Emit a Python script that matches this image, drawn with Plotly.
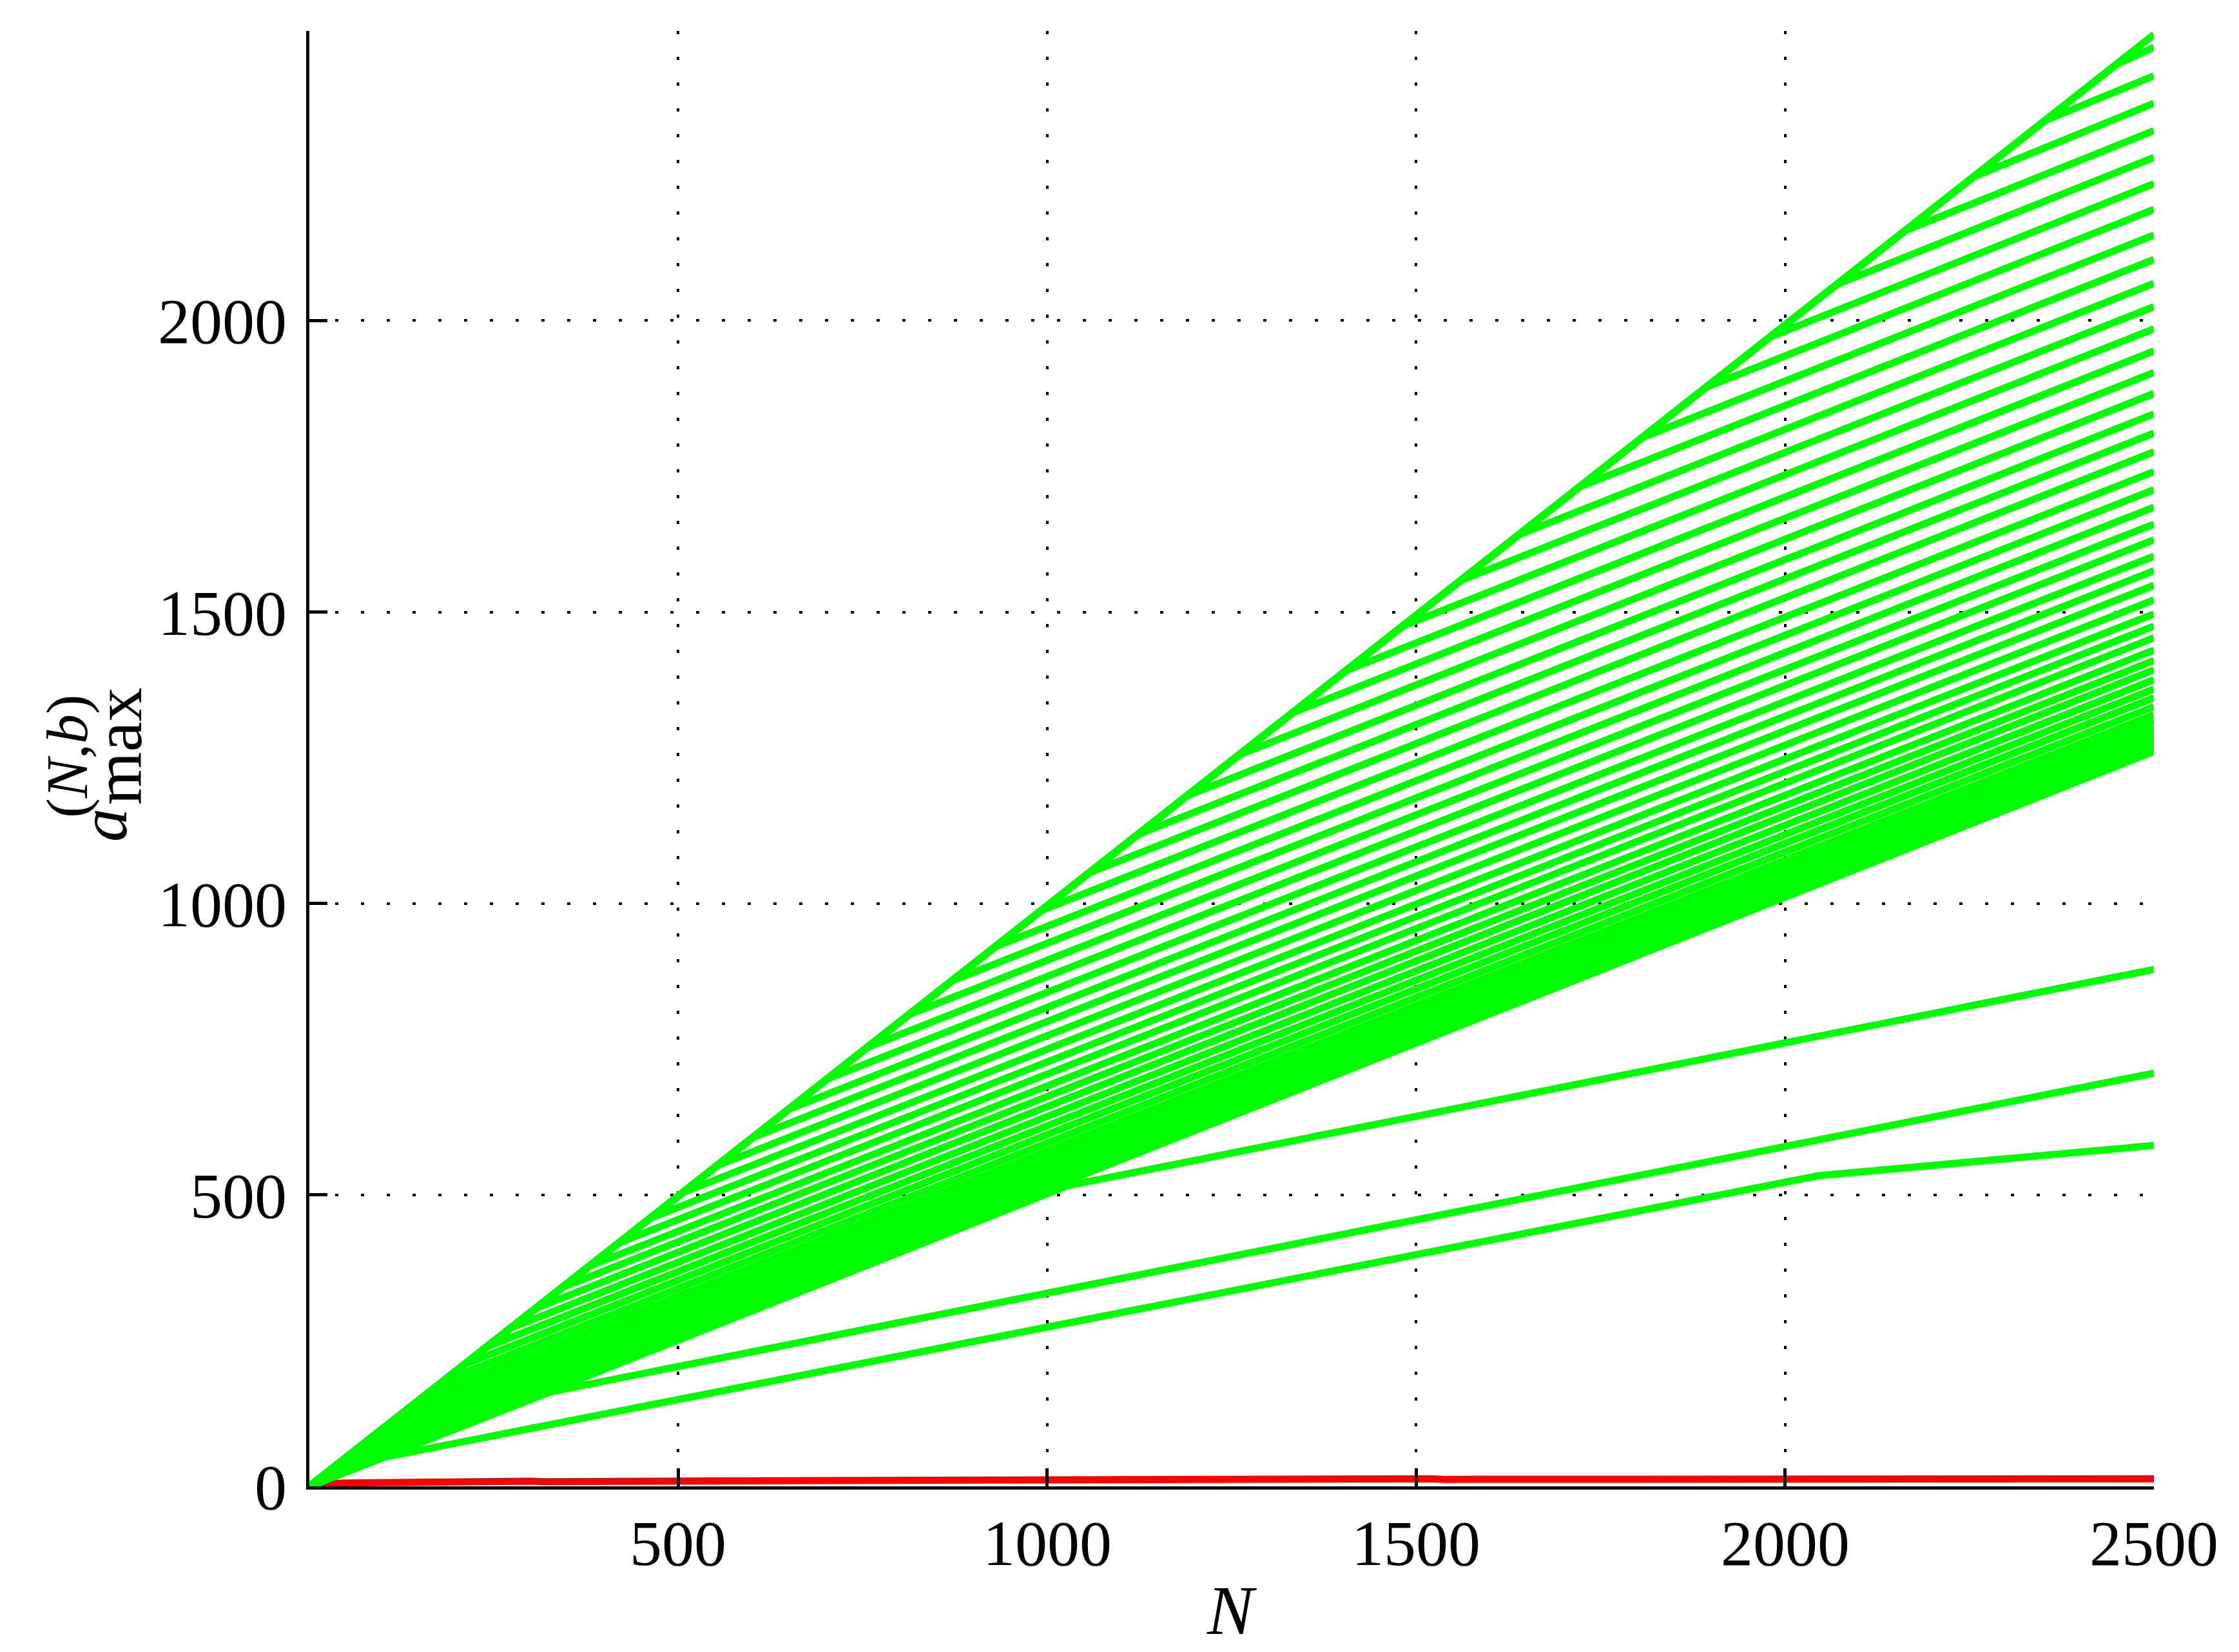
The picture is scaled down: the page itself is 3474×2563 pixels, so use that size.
import plotly.graph_objects as go

# ---------------- data ----------------
# main bundle: each curve follows the diagonal up to a branch point, then a flatter segment to N=2500
branch_N = [20, 30, 42, 56, 72, 90, 110, 132, 156, 182, 210, 240, 272, 306, 342, 380,
            420, 462, 506, 552, 600, 650, 702, 756, 812, 870, 930, 992, 1056, 1122, 1190,
            1260, 1332, 1406, 1482, 1560, 1640, 1722, 1806, 1892, 1980, 2070, 2162, 2256,
            2352, 2450]
branch_a = [20, 30, 42, 56, 72, 90, 110, 131, 155, 181, 209, 239, 271, 305, 341, 378,
            418, 460, 504, 550, 598, 647, 699, 753, 809, 867, 926, 988, 1052, 1118, 1185,
            1255, 1327, 1400, 1476, 1554, 1633, 1715, 1799, 1885, 1972, 2062, 2154, 2247,
            2343, 2440]
end_a = [1261, 1264, 1269, 1275, 1283, 1292, 1302, 1313, 1324, 1338, 1353, 1368, 1384,
         1401, 1417, 1435, 1456, 1476, 1497, 1521, 1546, 1571, 1596, 1624, 1651, 1680,
         1710, 1741, 1775, 1807, 1840, 1875, 1911, 1948, 1986, 2024, 2064, 2105, 2147,
         2191, 2235, 2280, 2326, 2373, 2420, 2469]

# top diagonal curve
diag_N = [0, 2500]
diag_a = [0, 2491]

# the three low curves (breakpoints)
lowA_N = [0, 101, 2045, 2500]
lowA_a = [0, 50, 533, 585]
lowB_N = [0, 326, 2500]
lowB_a = [0, 162, 709]
lowC_N = [0, 1028, 2500]
lowC_a = [0, 516, 887]

# red curve (noisy, near zero)
red_N = [1, 2, 3, 5, 8, 12, 16, 20, 30, 40, 50, 60, 80, 100, 120, 140, 160, 180, 200,
         220, 240, 260, 280, 300, 320, 340, 360, 380, 400, 420, 440, 460, 480, 500, 520,
         540, 560, 580, 600, 620, 640, 660, 680, 700, 720, 740, 760, 780, 800, 820, 840,
         860, 880, 900, 920, 940, 960, 980, 1000, 1020, 1040, 1060, 1080, 1100, 1120, 1140,
         1160, 1180, 1200, 1220, 1240, 1260, 1280, 1300, 1320, 1340, 1360, 1380, 1400, 1420,
         1440, 1460, 1480, 1500, 1520, 1540, 1560, 1580, 1600, 1620, 1640, 1660, 1680, 1700,
         1720, 1740, 1760, 1780, 1800, 1820, 1840, 1860, 1880, 1900, 1920, 1940, 1960, 1980,
         2000, 2020, 2040, 2060, 2080, 2100, 2120, 2140, 2160, 2180, 2200, 2220, 2240, 2260,
         2280, 2300, 2320, 2340, 2360, 2380, 2400, 2420, 2440, 2460, 2480, 2500]
red_a = [0, 1, 1.5, 2.3, 3.0, 3.6, 4.0, 4.4, 5.0, 5.4, 5.8, 6.0, 6.3, 6.6, 6.5, 7.2, 6.9,
         7.4, 7.6, 7.3, 8.4, 7.8, 8.0, 8.9, 8.1, 8.4, 9.3, 8.6, 8.7, 9.6, 8.8, 9.0, 9.9,
         9.1, 9.2, 10.3, 9.4, 9.4, 9.5, 10.6, 9.7, 9.7, 10.9, 9.9, 10.0, 10.0, 11.2, 10.1,
         10.2, 10.4, 11.6, 10.4, 10.5, 10.5, 11.8, 10.7, 10.8, 10.8, 12.0, 10.9, 11.0,
         11.1, 12.3, 11.2, 11.2, 11.3, 11.3, 12.5, 11.4, 11.4, 11.5, 12.7, 11.6, 11.6,
         11.6, 12.8, 11.7, 11.7, 11.8, 13.0, 11.8, 11.9, 11.9, 12.0, 13.1, 12.0, 12.0,
         12.1, 13.2, 12.1, 12.1, 12.2, 13.3, 12.2, 12.2, 12.3, 12.3, 13.4, 12.3, 12.4,
         12.4, 13.5, 12.4, 12.5, 12.5, 13.6, 12.5, 12.6, 12.6, 12.6, 13.7, 12.7, 12.7,
         12.7, 13.8, 12.8, 12.8, 12.8, 12.8, 13.9, 12.9, 12.9, 12.9, 14.0, 12.9, 13.0,
         13.0, 13.0, 14.0, 13.0, 13.1, 13.1, 13.1, 13.1]

x_ticks = [500, 1000, 1500, 2000, 2500]
y_ticks = [0, 500, 1000, 1500, 2000]

# ---------------- figure ----------------
GREEN = "#00FF00"
RED = "#FF0000"
LW = 11

fig = go.Figure()

fig.add_trace(go.Scatter(x=red_N, y=red_a, mode="lines",
                         line=dict(color=RED, width=LW), showlegend=False))

for bN, ba, ea in zip(branch_N, branch_a, end_a):
    fig.add_trace(go.Scatter(x=[0, bN, 2500], y=[0, ba, ea], mode="lines",
                             line=dict(color=GREEN, width=LW), showlegend=False))

for xs, ys in [(diag_N, diag_a), (lowA_N, lowA_a), (lowB_N, lowB_a), (lowC_N, lowC_a)]:
    fig.add_trace(go.Scatter(x=xs, y=ys, mode="lines",
                             line=dict(color=GREEN, width=LW), showlegend=False))

FONT = "Liberation Serif"
TICK_SIZE = 100
W, H = 3474, 2563
L, R, T, B = 472, 3334, 40, 2298

axis_common = dict(
    showline=True, linecolor="black", linewidth=5, mirror=False,
    zeroline=False,
    showgrid=True, gridcolor="black", gridwidth=4, griddash="5px,35px",
    ticks="inside", ticklen=28, tickwidth=5, tickcolor="black",
    tickfont=dict(family=FONT, size=TICK_SIZE, color="black"),
)

fig.update_layout(
    width=W, height=H,
    margin=dict(l=L, r=W - R, t=T, b=H - B, pad=0),
    paper_bgcolor="white", plot_bgcolor="white",
    xaxis=dict(range=[0, 2500], tickvals=x_ticks, showticklabels=False, **axis_common),
    yaxis=dict(range=[0, 2497], tickvals=y_ticks, ticktext=[str(v) for v in y_ticks],
               ticklabelstandoff=10, **axis_common),
)

pw, ph = R - L, B - T

def px_to_paper(px, py):
    return (px - L) / pw, (B - py) / ph

ann = []
# x tick labels
_, ylab = px_to_paper(0, 2386)
for v in x_ticks:
    ann.append(dict(text=str(v), x=v, y=ylab, xref="x", yref="paper",
                    xanchor="center", yanchor="middle", showarrow=False,
                    font=dict(family=FONT, size=TICK_SIZE, color="black")))
# x-axis title
xp, yp = px_to_paper(1903, 2490)
ann.append(dict(text="<i>N</i>", x=xp, y=yp, xref="paper", yref="paper",
                xanchor="center", yanchor="middle", showarrow=False,
                font=dict(family=FONT, size=108, color="black")))
# y-axis title pieces (rotated)
xp, yp = px_to_paper(152, 1272)
ann.append(dict(text="<i>a</i>", x=xp, y=yp, xref="paper", yref="paper",
                xanchor="center", yanchor="middle", showarrow=False, textangle=-90,
                font=dict(family=FONT, size=104, color="black")))
xp, yp = px_to_paper(176, 1150)
ann.append(dict(text="max", x=xp, y=yp, xref="paper", yref="paper",
                xanchor="center", yanchor="middle", showarrow=False, textangle=-90,
                font=dict(family=FONT, size=106, color="black")))
xp, yp = px_to_paper(96, 1165)
ann.append(dict(text="(<i>N</i>,<i>b</i>)", x=xp, y=yp, xref="paper", yref="paper",
                xanchor="center", yanchor="middle", showarrow=False, textangle=-90,
                font=dict(family=FONT, size=92, color="black")))
fig.update_layout(annotations=ann)

fig.write_html("out.html")
